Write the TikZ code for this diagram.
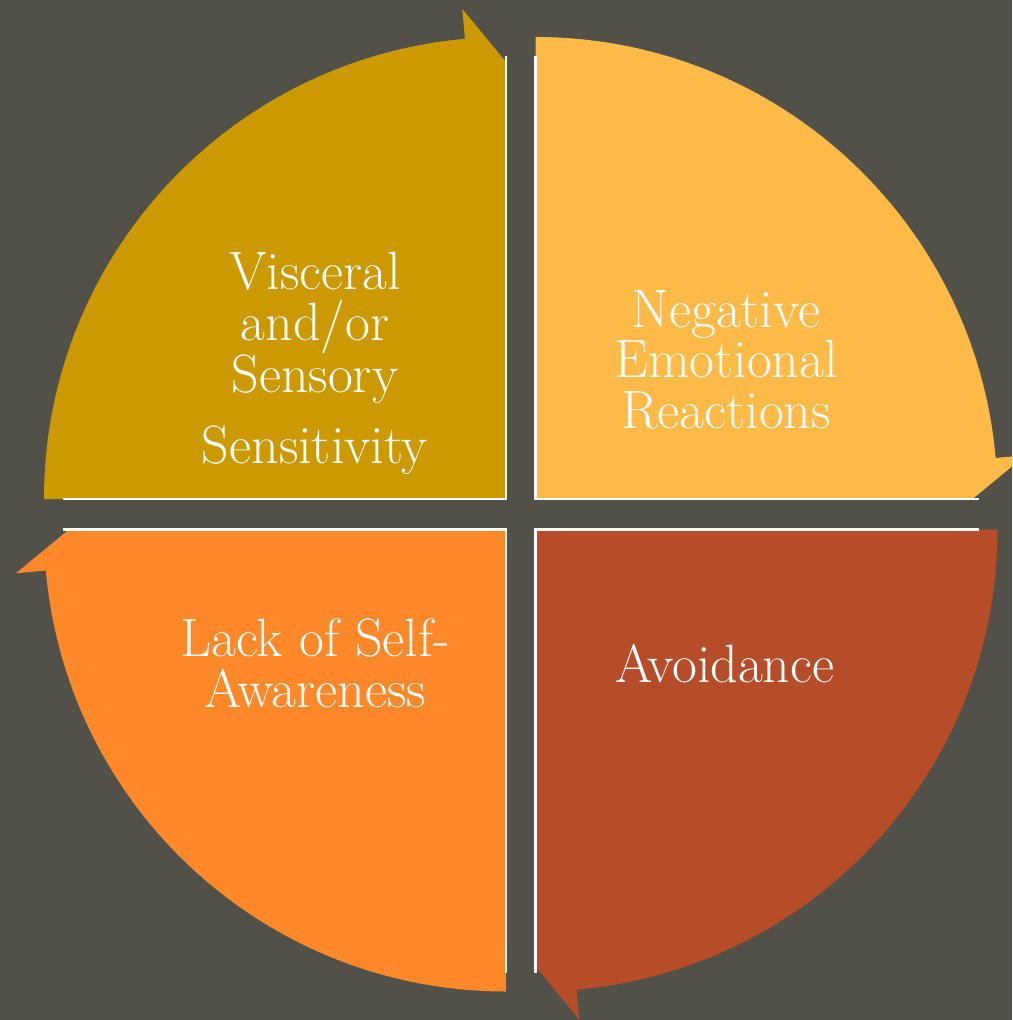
\documentclass[tikz,border=0pt]{standalone}
\usepackage{fontspec}
\usetikzlibrary{calc}
\definecolor{bg}{RGB}{81,81,73}
\definecolor{segA}{RGB}{204,153,0}
\definecolor{segB}{RGB}{255,186,72}
\definecolor{segC}{RGB}{255,136,40}
\definecolor{segD}{RGB}{183,76,40}
\tikzset{
  seglabel/.style={text=white, align=center, anchor=base, inner sep=0pt,
    font=\fontsize{54}{50.5}\selectfont},
  edge/.style={draw=white, line width=2.5pt, line cap=butt},
}
\begin{document}
\begin{tikzpicture}[x=1pt,y=1pt]
  % canvas
  \fill[bg] (0,0) rectangle (1012,-1020);
  \useasboundingbox (0,0) rectangle (1012,-1020);
  \clip (0,0) rectangle (1012,-1020);

  % corners of the four quarter segments
  \coordinate (c1) at (506,-499);
  \coordinate (c2) at (535.5,-499);
  \coordinate (c3) at (506,-529.5);
  \coordinate (c4) at (535.5,-529.5);

  % quarter segments, each ending in a half arrowhead (clockwise cycle)
  \fill[segA] (c1) -- ($(c1)+(180:462)$) arc[start angle=180, end angle=95.1, radius=462]
     -- ($(c1)+(95.1:492)$) -- ($(c1)+(90:437)$) -- cycle;
  \fill[segB] (c2) -- ($(c2)+(90:462)$) arc[start angle=90, end angle=5.1, radius=462]
     -- ($(c2)+(5.1:492)$) -- ($(c2)+(0:437)$) -- cycle;
  \fill[segD] (c4) -- ($(c4)+(0:462)$) arc[start angle=0, end angle=-84.9, radius=462]
     -- ($(c4)+(-84.9:492)$) -- ($(c4)+(-90:437)$) -- cycle;
  \fill[segC] (c3) -- ($(c3)+(-90:462)$) arc[start angle=-90, end angle=-174.9, radius=462]
     -- ($(c3)+(-174.9:492)$) -- ($(c3)+(180:437)$) -- cycle;

  % white radial edges
  \draw[edge] ($(c1)+(180:443)$) -- (c1) -- ($(c1)+(90:443)$);
  \draw[edge] ($(c2)+(90:443)$) -- (c2) -- ($(c2)+(0:443)$);
  \draw[edge] ($(c4)+(0:443)$) -- (c4) -- ($(c4)+(-90:443)$);
  \draw[edge] ($(c3)+(-90:443)$) -- (c3) -- ($(c3)+(180:443)$);

  % labels (anchored at the baseline of the last line)
  \node[seglabel] (la) at (315,-463) {Visceral\\and/or\\Sensory\\[20pt]Sensitivity};
  \node[seglabel] (lb) at (726,-428) {Negative\\Emotional\\Reactions};
  \node[seglabel] (lc) at (315,-707) {Lack of Self-\\Awareness};
  \node[seglabel] (ld) at (725,-682) {Avoidance};
\end{tikzpicture}
\end{document}
